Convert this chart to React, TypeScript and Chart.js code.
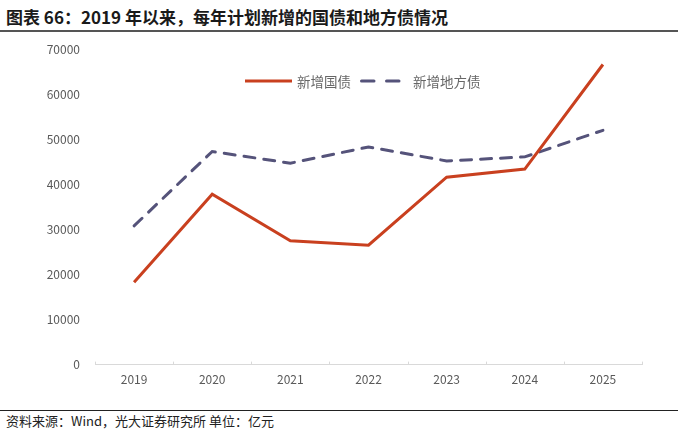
import { useEffect, useRef } from "react";
import { Chart, registerables } from "chart.js";

Chart.register(...registerables);

const years = ["2019", "2020", "2021", "2022", "2023", "2024", "2025"];
const nationalDebt = [18300, 37800, 27500, 26500, 41600, 43400, 66600];
const localDebt = [30800, 47300, 44700, 48300, 45200, 46100, 52000];

const RED = "#c9401f";
const BLUE = "#55537a";
const FONT = "'Noto Sans CJK SC', 'Noto Sans', sans-serif";

// small tick marks pointing up from the x axis, at category boundaries
const axisTicks = {
  id: "axisTicks",
  afterDraw(chart: Chart) {
    const x = chart.scales.x;
    const ctx = chart.ctx;
    const step = (x.right - x.left) / years.length;
    ctx.save();
    ctx.strokeStyle = "#d9d9d9";
    ctx.lineWidth = 1;
    ctx.beginPath();
    for (let i = 0; i <= years.length; i++) {
      const px = Math.round(x.left + i * step) + 0.5;
      ctx.moveTo(px, x.top - 3);
      ctx.lineTo(px, x.top);
    }
    ctx.stroke();
    ctx.restore();
  },
};

const App = () => {
  const canvasRef = useRef<HTMLCanvasElement>(null);

  useEffect(() => {
    document.body.style.margin = "0";
    if (!canvasRef.current) return;
    const ctx = canvasRef.current.getContext("2d");

    const chart = new Chart(ctx!, {
      type: "line",
      data: {
        labels: years,
        datasets: [
          {
            label: "新增国债",
            data: nationalDebt,
            borderColor: RED,
            backgroundColor: RED,
            borderWidth: 3,
            pointRadius: 0,
            tension: 0,
          },
          {
            label: "新增地方债",
            data: localDebt,
            borderColor: BLUE,
            backgroundColor: BLUE,
            borderWidth: 3,
            borderDash: [11, 9],
            borderCapStyle: "round",
            pointRadius: 0,
            tension: 0,
          },
        ],
      },
      options: {
        animation: false,
        responsive: false,
        layout: { padding: { top: 4, right: 41, bottom: 4, left: 0 } },
        plugins: {
          legend: { display: false },
          tooltip: { enabled: false },
        },
        scales: {
          x: {
            offset: true,
            grid: { display: false, drawTicks: false, offset: true },
            border: { color: "#d9d9d9", width: 1 },
            ticks: {
              color: "#595959",
              font: { family: FONT, size: 12 },
              padding: 8,
            },
          },
          y: {
            min: 0,
            max: 70000,
            grid: { display: false, drawTicks: false },
            border: { display: false },
            afterFit: (scale) => {
              scale.width = 95;
            },
            ticks: {
              stepSize: 10000,
              color: "#595959",
              font: { family: FONT, size: 12 },
              padding: 15,
              callback: (value) => String(value),
            },
          },
        },
      },
      plugins: [axisTicks],
    });

    return () => {
      chart.destroy();
    };
  }, []);

  return (
    <div
      style={{
        position: "relative",
        width: 683,
        height: 432,
        background: "#fff",
        fontFamily: FONT,
        overflow: "hidden",
      }}
    >
      <div
        style={{
          position: "absolute",
          left: 6,
          top: 4,
          fontSize: 17,
          fontWeight: 700,
          color: "#1a1a1a",
          whiteSpace: "nowrap",
        }}
      >
        图表 66：2019 年以来，每年计划新增的国债和地方债情况
      </div>
      <div
        style={{
          position: "absolute",
          left: 0,
          top: 30,
          width: 678,
          height: 1.5,
          background: "#555",
        }}
      />
      <canvas
        ref={canvasRef}
        width={683}
        height={372}
        style={{ position: "absolute", left: 0, top: 27 }}
      />
      <div
        style={{
          position: "absolute",
          top: 71,
          left: 245,
          display: "flex",
          alignItems: "center",
          fontSize: 13.5,
          color: "#666",
          whiteSpace: "nowrap",
        }}
      >
        <svg width={48} height={18}>
          <line x1={0} y1={9} x2={47} y2={9} stroke={RED} strokeWidth={3} />
        </svg>
        <span style={{ marginLeft: 4 }}>新增国债</span>
        <svg width={50} height={18} style={{ marginLeft: 9 }}>
          <line x1={1.5} y1={9} x2={14} y2={9} stroke={BLUE} strokeWidth={3} strokeLinecap="round" />
          <line x1={26.5} y1={9} x2={39} y2={9} stroke={BLUE} strokeWidth={3} strokeLinecap="round" />
        </svg>
        <span style={{ marginLeft: 3 }}>新增地方债</span>
      </div>
      <div
        style={{
          position: "absolute",
          left: 0,
          top: 410,
          width: 678,
          height: 1,
          background: "#222",
        }}
      />
      <div
        style={{
          position: "absolute",
          left: 6,
          top: 411,
          fontSize: 13,
          color: "#222",
          whiteSpace: "nowrap",
        }}
      >
        资料来源：Wind，光大证券研究所 单位：亿元
      </div>
    </div>
  );
};

export default App;
